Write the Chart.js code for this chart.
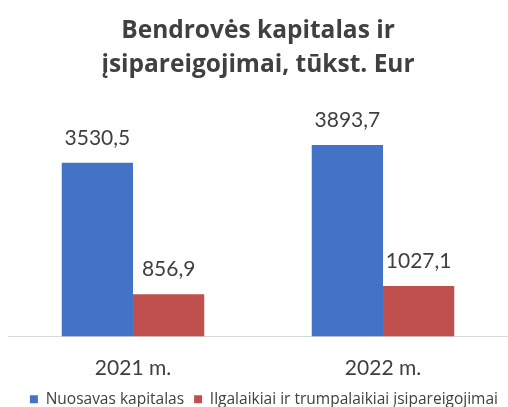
<!DOCTYPE html>
<html>
<head>
<meta charset="utf-8">
<script src="https://cdn.jsdelivr.net/npm/chart.js@4.4.0/dist/chart.umd.min.js"></script>
<style>
  html, body { margin: 0; padding: 0; background: #fff; }
  #wrap { width: 508px; height: 407px; }
</style>
</head>
<body>
<div id="wrap"><canvas id="chart" width="508" height="407"></canvas></div>
<script>
const years = ["2021 m.", "2022 m."];
const equity = [3530.5, 3893.7];
const liabilities = [856.9, 1027.1];
const seriesNames = ["Nuosavas kapitalas", "Ilgalaikiai ir trumpalaikiai įsipareigojimai"];
const titleLines = ["Bendrovės kapitalas ir", "įsipareigojimai, tūkst. Eur"];

const textColor = "#404040";
const labelFont = "Lato, 'Open Sans', sans-serif";
const titleFont = "'Open Sans', Lato, sans-serif";

// draws the value over each bar, with a comma as decimal mark
const valueLabels = {
  id: "valueLabels",
  afterDatasetsDraw(chart) {
    const ctx = chart.ctx;
    ctx.save();
    ctx.font = "21px " + labelFont;
    ctx.fillStyle = textColor;
    ctx.textAlign = "center";
    ctx.textBaseline = "alphabetic";
    chart.data.datasets.forEach((ds, i) => {
      chart.getDatasetMeta(i).data.forEach((bar, j) => {
        const txt = ds.data[j].toFixed(1).replace(".", ",");
        ctx.fillText(txt, bar.x, bar.y - 18);
      });
    });
    ctx.restore();
  }
};

new Chart(document.getElementById("chart"), {
  type: "bar",
  data: {
    labels: years,
    datasets: [
      { label: seriesNames[0], data: equity, backgroundColor: "#4472C4" },
      { label: seriesNames[1], data: liabilities, backgroundColor: "#C0504D" }
    ]
  },
  options: {
    responsive: false,
    animation: false,
    layout: { padding: { left: 8, right: 0, top: 0, bottom: -10 } },
    datasets: {
      bar: { categoryPercentage: 0.57, barPercentage: 1 }
    },
    scales: {
      x: {
        grid: { display: false, drawTicks: false },
        border: { display: true, color: "#d9d9d9", width: 1 },
        ticks: { color: textColor, font: { family: labelFont, size: 21, lineHeight: 0.7 }, padding: 24 },
        afterFit(scale) { scale.height = 45; }
      },
      y: {
        display: false,
        min: 0,
        max: 4500
      }
    },
    plugins: {
      title: {
        display: true,
        text: titleLines,
        color: textColor,
        font: { family: titleFont, size: 24.5, weight: "bold", lineHeight: 1.39 },
        padding: { top: 14, bottom: 33 }
      },
      legend: {
        position: "bottom",
        align: "end",
        labels: {
          color: textColor,
          font: { family: titleFont, size: 15.5 },
          boxWidth: 8,
          boxHeight: 8,
          padding: 10
        }
      },
      tooltip: { enabled: false }
    }
  },
  plugins: [valueLabels]
});
</script>
</body>
</html>
